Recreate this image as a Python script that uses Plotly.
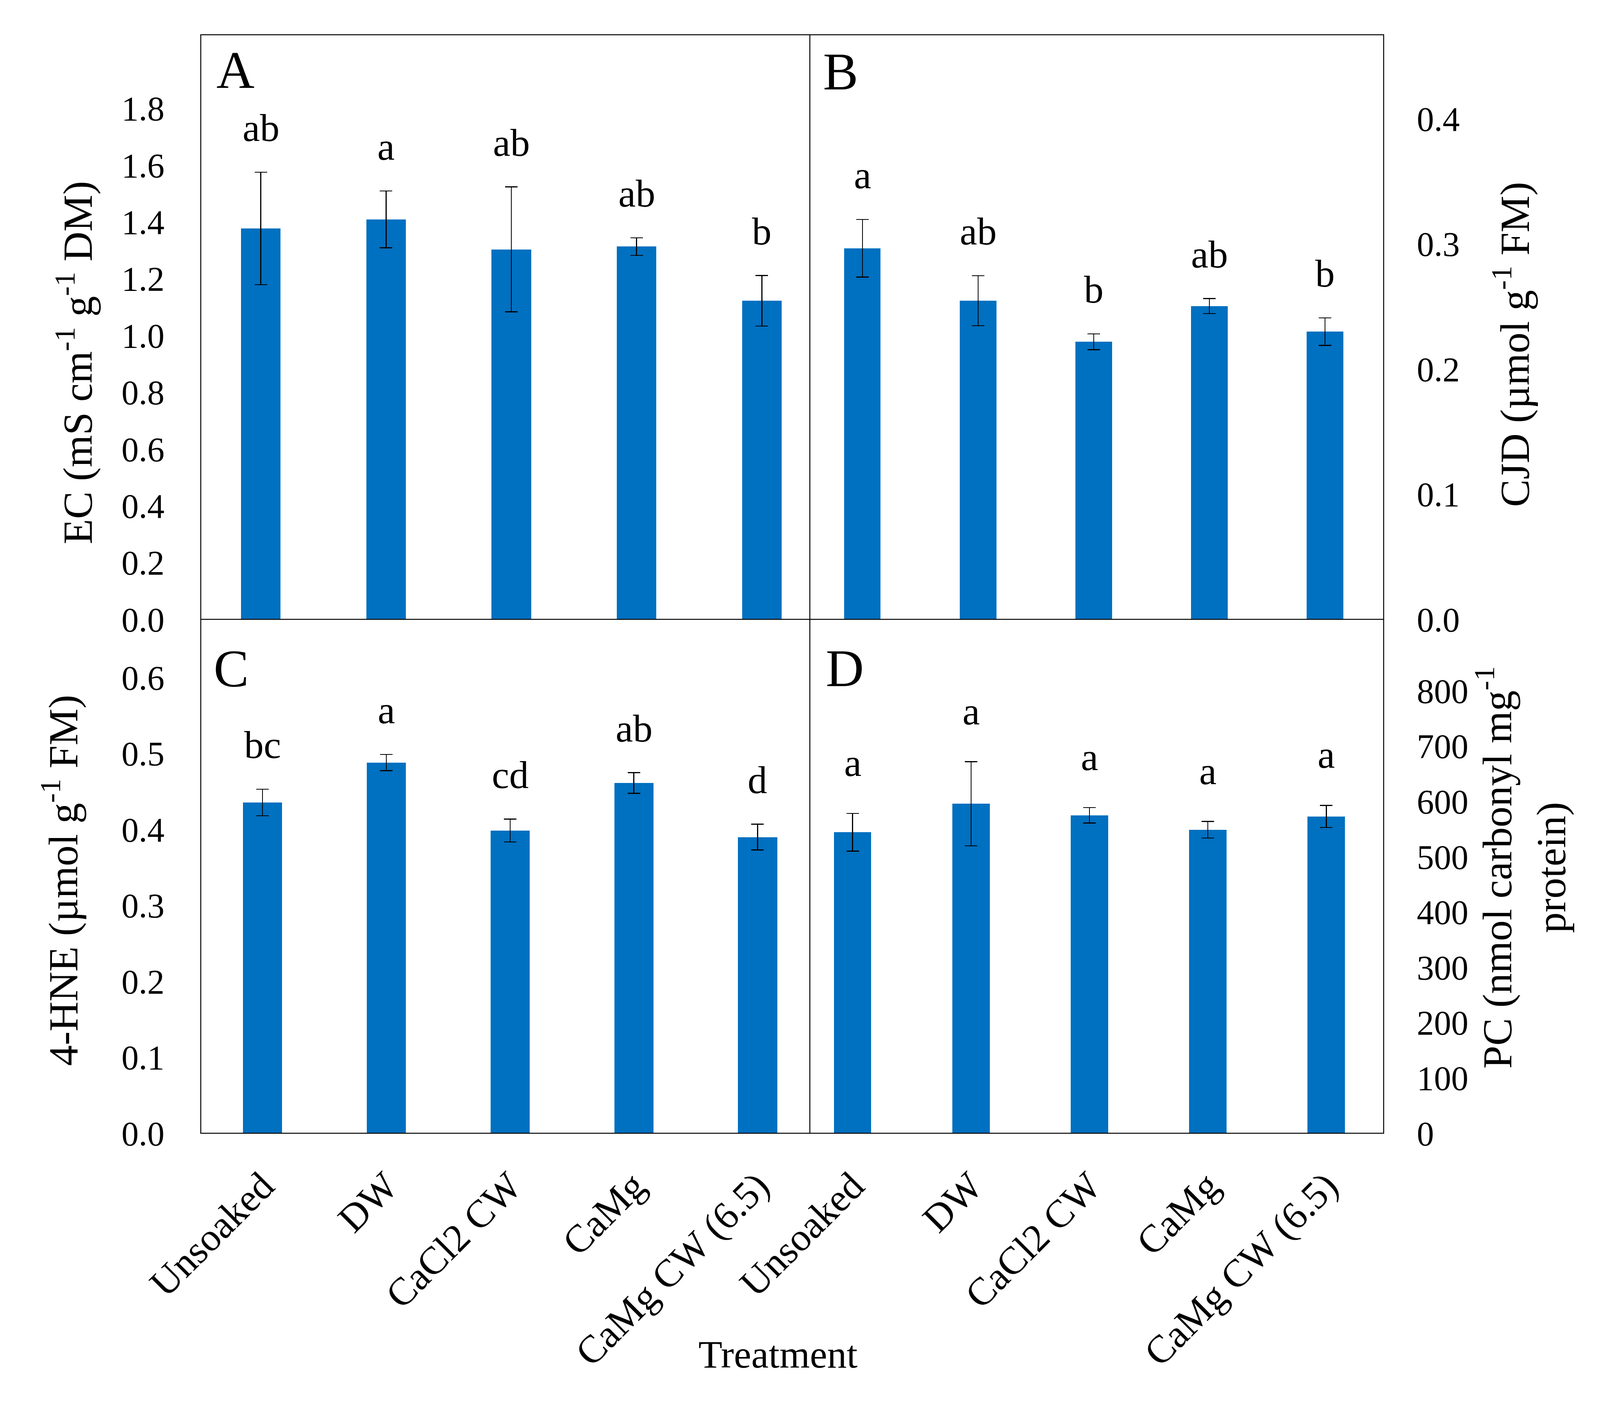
import plotly.graph_objects as go

# ---------------- data ----------------
categories = ["Unsoaked", "DW", "CaCl2 CW", "CaMg", "CaMg CW (6.5)"]

ec_mean = [1.377, 1.409, 1.303, 1.313, 1.122]
ec_err = [0.198, 0.100, 0.220, 0.031, 0.089]
ec_letters = ["ab", "a", "ab", "ab", "b"]

cjd_mean = [0.2965, 0.2546, 0.2217, 0.2502, 0.2299]
cjd_err = [0.023, 0.020, 0.0063, 0.006, 0.011]
cjd_letters = ["a", "ab", "b", "ab", "b"]

hne_mean = [0.4355, 0.488, 0.3985, 0.4612, 0.3899]
hne_err = [0.0175, 0.0107, 0.015, 0.0136, 0.017]
hne_letters = ["bc", "a", "cd", "ab", "d"]

pc_mean = [544, 595.6, 574.7, 548.6, 572.7]
pc_err = [34, 76, 14, 15, 20]
pc_letters = ["a", "a", "a", "a", "a"]

ec_ticks = [0.0, 0.2, 0.4, 0.6, 0.8, 1.0, 1.2, 1.4, 1.6, 1.8]
cjd_ticks = [0.0, 0.1, 0.2, 0.3, 0.4]
hne_ticks = [0.0, 0.1, 0.2, 0.3, 0.4, 0.5, 0.6]
pc_ticks = [0, 100, 200, 300, 400, 500, 600, 700, 800]

# ---------------- style / geometry (reference pixel frame) ----------------
W, H = 4718, 3603
FONT = "Liberation Serif"
BLUE = "#0070C0"


def fx(p):
    return p / W


def fy(p):
    return 1 - p / H


L, MID_X, R = 592, 2388, 4080
T, MID_Y, B = 89, 1586, 2902

fig = go.Figure()

panels = [
    ("x", "y", ec_mean, ec_err, ec_letters, 80),
    ("x2", "y2", cjd_mean, cjd_err, cjd_letters, 80),
    ("x3", "y3", hne_mean, hne_err, hne_letters, 80),
    ("x4", "y4", pc_mean, pc_err, pc_letters, 96),
]

annotations = []
for xa, ya, mean, err, letters, off in panels:
    fig.add_trace(go.Bar(
        x=categories, y=mean, xaxis=xa, yaxis=ya,
        width=0.316, marker=dict(color=BLUE, line=dict(width=0)),
        error_y=dict(type="data", array=err, visible=True,
                     color="black", thickness=2.5, width=16),
        showlegend=False, hoverinfo="skip",
    ))
    for c, m, e, t in zip(categories, mean, err, letters):
        annotations.append(dict(
            x=c, y=m + e, xref=xa, yref=ya, text=t, showarrow=False,
            xanchor="center", yanchor="bottom", yshift=off - 24,
            font=dict(family=FONT, size=100, color="black"),
        ))

# panel letters
for txt, px, base in [("A", 636, 225), ("B", 2425, 229),
                      ("C", 628, 1758), ("D", 2433, 1757)]:
    annotations.append(dict(
        x=fx(px), y=fy(base), xref="paper", yref="paper", text=txt,
        showarrow=False, xanchor="left", yanchor="bottom", yshift=-31,
        font=dict(family=FONT, size=135, color="black"),
    ))

# axis titles
title_font = dict(family=FONT, size=106, color="black")
for txt, cx, cy in [
    ("EC (mS cm<sup>-1</sup> g<sup>-1</sup> DM)", 221, 929),
    ("4-HNE (µmol g<sup>-1</sup> FM)", 178, 2255),
    ("CJD (µmol g<sup>-1</sup> FM)", 4458, 882),
    ("PC (nmol carbonyl mg<sup>-1</sup><br>protein)", 4485, 2222),
]:
    annotations.append(dict(
        x=fx(cx), y=fy(cy), xref="paper", yref="paper", text=txt,
        showarrow=False, textangle=-90, xanchor="center", yanchor="middle",
        font=title_font,
    ))

annotations.append(dict(
    x=fx(2294), y=fy(3468), xref="paper", yref="paper", text="Treatment",
    showarrow=False, xanchor="center", yanchor="middle",
    font=dict(family=FONT, size=100, color="black"),
))

tick_font = dict(family=FONT, size=88, color="black")
cat_font = dict(family=FONT, size=100, color="black")

common_x = dict(showgrid=False, zeroline=False, showline=False, ticks="",
                type="category", automargin=False)
common_y = dict(showgrid=False, zeroline=False, showline=False, ticks="",
                tickfont=tick_font, tickformat=".1f", automargin=False)

fig.update_layout(
    autosize=True,
    margin=dict(l=0, r=0, t=0, b=0, pad=0),
    paper_bgcolor="white", plot_bgcolor="white",
    bargap=0,
    xaxis=dict(common_x, domain=[fx(L), fx(MID_X)], anchor="y",
               range=[-0.479, 4.383], showticklabels=False),
    yaxis=dict(common_y, domain=[fy(MID_Y), fy(T)], anchor="x",
               range=[0, 2.059], tickvals=ec_ticks, side="left",
               ticklabelstandoff=92),
    xaxis2=dict(common_x, domain=[fx(MID_X), fx(R)], anchor="y2",
                range=[-0.455, 4.507], showticklabels=False),
    yaxis2=dict(common_y, domain=[fy(MID_Y), fy(T)], anchor="x2",
                range=[0, 0.467], tickvals=cjd_ticks, side="right",
                ticklabelstandoff=84),
    xaxis3=dict(common_x, domain=[fx(L), fx(MID_X)], anchor="y3",
                range=[-0.499, 4.422], tickangle=-45, tickfont=cat_font,
                ticklabelstandoff=55),
    yaxis3=dict(common_y, domain=[fy(B), fy(MID_Y)], anchor="x3",
                range=[0, 0.6766], tickvals=hne_ticks, side="left",
                ticklabelstandoff=92),
    xaxis4=dict(common_x, domain=[fx(MID_X), fx(R)], anchor="y4",
                range=[-0.361, 4.484], tickangle=-45, tickfont=cat_font,
                ticklabelstandoff=55),
    yaxis4=dict(common_y, domain=[fy(B), fy(MID_Y)], anchor="x4",
                range=[0, 929], tickvals=pc_ticks, tickformat="d",
                side="right", ticklabelstandoff=84),
    annotations=annotations,
    shapes=[
        dict(type="rect", xref="paper", yref="paper",
             x0=fx(L), x1=fx(R), y0=fy(B), y1=fy(T),
             line=dict(color="black", width=2.5), layer="above"),
        dict(type="line", xref="paper", yref="paper",
             x0=fx(L), x1=fx(R), y0=fy(MID_Y), y1=fy(MID_Y),
             line=dict(color="black", width=2.5), layer="above"),
        dict(type="line", xref="paper", yref="paper",
             x0=fx(MID_X), x1=fx(MID_X), y0=fy(B), y1=fy(T),
             line=dict(color="black", width=2.5), layer="above"),
    ],
)

fig.write_html(
    "out.html",
    config={"displayModeBar": False, "responsive": True},
    default_width="100vw",
    default_height="100vh",
    post_script=(
        "document.body.style.margin='0';"
        "document.body.style.overflow='hidden';"
        "document.documentElement.style.overflow='hidden';"
    ),
)
